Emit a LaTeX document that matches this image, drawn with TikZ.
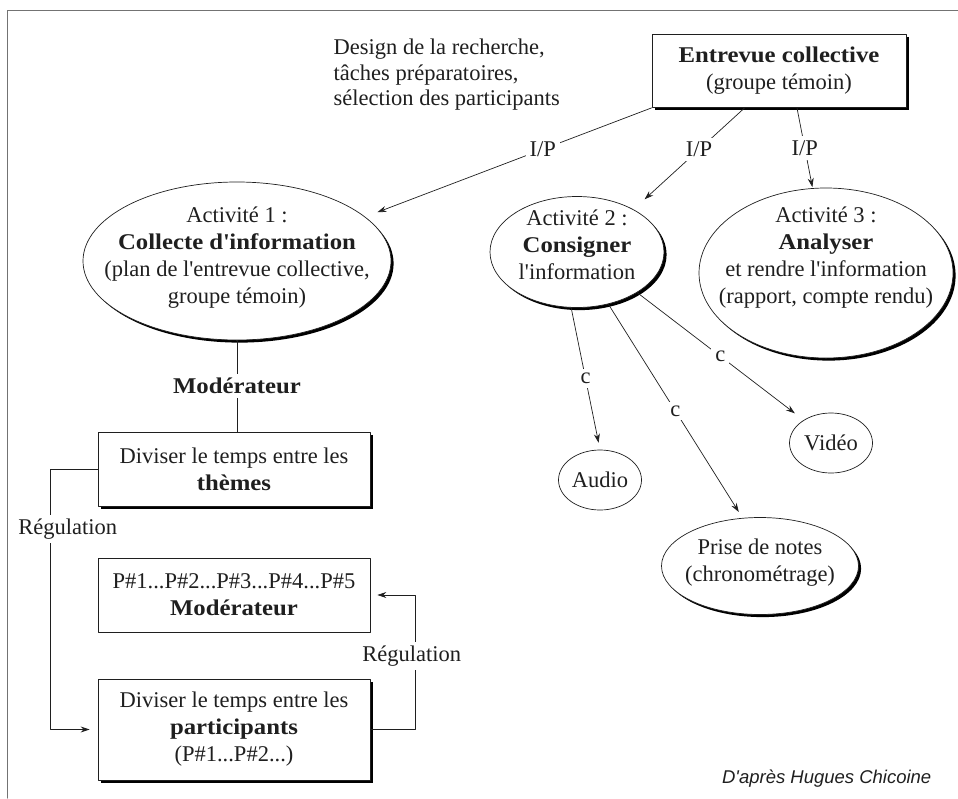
\documentclass[tikz,border=0pt]{standalone}
\usepackage{fontspec}
\setmainfont{Liberation Serif}[BoldFeatures={FakeStretch=1.1}]
\newfontfamily\sansit{Liberation Sans}
\usepackage{tikz}
\usetikzlibrary{arrows.meta}
\usetikzlibrary{shapes.geometric}
\usetikzlibrary{shadows}
\definecolor{framegray}{gray}{0.45}
\definecolor{ink}{gray}{0.12}
\tikzset{
bloc/.style={draw,fill=white,line width=0.7pt,align=center,inner sep=0pt},
bulle/.style={ellipse,draw,fill=white,line width=0.7pt,inner sep=0pt},
ombre/.style={drop shadow={shadow xshift=2.6pt,shadow yshift=-2.6pt,fill=black,opacity=1}},
etiq/.style={fill=white,inner sep=4pt}
}
\begin{document}
\begin{tikzpicture}[line cap=round,line join=round,>={Stealth[length=9pt,width=6pt]},x=1pt,y=-1pt,color=ink,line width=0.7pt,font=\fontsize{22.5}{27}\selectfont,every label/.style={align=center}]
\useasboundingbox (0,0) rectangle (958,798);
\draw[color=framegray,line width=1pt] (7,798) -- (7,10.5) -- (958,10.5);
\node[anchor=west,align=left,font=\fontsize{22.5}{25.5}\selectfont] (design) at (330,75) {Design de la recherche,\\t\^aches pr\'eparatoires,\\s\'election des participants};
\node[bloc,ombre,minimum width=254pt,minimum height=73pt] (entrevue) at (779,71) {\textbf{Entrevue collective}\\(groupe t\'emoin)};
\node[bulle,ombre,minimum width=308pt,minimum height=158pt,label={[yshift=3.5pt]center:{Activit\'e 1 :\\\textbf{Collecte d\textquotesingle information}\\(plan de l\textquotesingle entrevue collective,\\groupe t\'emoin)}}] (act1) at (237,261) {};
\node[bulle,ombre,minimum width=174pt,minimum height=111pt,label={[yshift=7pt]center:{Activit\'e 2 :\\\textbf{Consigner}\\l\textquotesingle information}}] (act2) at (577,252) {};
\node[bulle,ombre,minimum width=254pt,minimum height=170pt,label={[yshift=15pt]center:{Activit\'e 3 :\\\textbf{Analyser}\\et rendre l\textquotesingle information\\(rapport, compte rendu)}}] (act3) at (826,273) {};
\node[bulle,minimum width=83pt,minimum height=60pt] (audio) at (600,480) {Audio};
\node[bulle,minimum width=83pt,minimum height=60pt] (video) at (831,443) {Vid\'eo};
\node[bulle,ombre,minimum width=197pt,minimum height=97pt,label={[yshift=3.5pt]center:{Prise de notes\\(chronom\'etrage)}}] (notes) at (760,566) {};
\node[bloc,ombre,minimum width=272pt,minimum height=74pt] (themes) at (234,469) {Diviser le temps entre les\\\textbf{th\`emes}};
\node[bloc,minimum width=272pt,minimum height=74pt] (mod) at (234,595) {P\#1...P\#2...P\#3...P\#4...P\#5\\\textbf{Mod\'erateur}};
\node[bloc,ombre,minimum width=272pt,minimum height=101pt] (part) at (234,729.5) {Diviser le temps entre les\\\textbf{participants}\\(P\#1...P\#2...)};
\foreach \a/\t/\b/\p/\s in {south west/act1/19/0.38/13pt,227/act2/37/0.41/15pt,296/act3/99/0.5/1pt}
\draw[->,shorten >=\s] (entrevue.\a) -- node[etiq,pos=\p]{I/P} (\t.\b);
\foreach \a/\t/\b/\s in {264/audio/90/7pt,301/notes/110/7pt,326/video/140/11pt}
\draw[->,shorten >=\s] (act2.\a) -- node[etiq]{c} (\t.\b);
\draw (act1.south) -- node[etiq]{\textbf{Mod\'erateur}} (act1.south |- themes.north);
\draw[->,shorten >=8pt] (themes.west) -- ++(-47,0) |- node[etiq,pos=0.115,xshift=17pt]{R\'egulation} (part.west);
\draw[->,shorten >=7pt] (part.east) -- ++(45,0) |- node[etiq,pos=0.273,xshift=-3.5pt]{R\'egulation} (mod.east);
\node[anchor=base east,font=\sansit\itshape\fontsize{18.5}{22}\selectfont] (credit) at (935,783) {D\textquotesingle apr\`es Hugues Chicoine};
\end{tikzpicture}
\end{document}
